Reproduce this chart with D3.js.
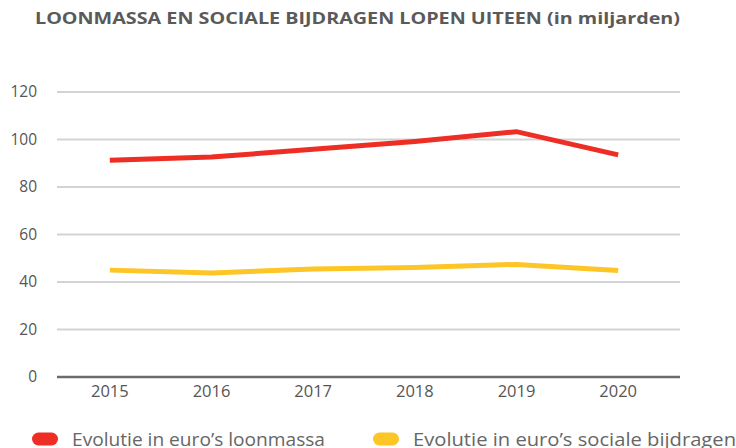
<!DOCTYPE html>
<html>
<head>
<meta charset="utf-8">
<script src="https://cdn.jsdelivr.net/npm/d3@7"></script>
<style>
  html, body { margin: 0; padding: 0; background: #fff; }
  svg { display: block; font-family: "Open Sans", "DejaVu Sans", sans-serif; }
</style>
</head>
<body>
<svg id="chart" width="736" height="448"></svg>
<script>
// Years and series (in billions of euros)
const years = ["2015", "2016", "2017", "2018", "2019", "2020"];
const loonmassa = [91.3, 92.6, 95.9, 99.2, 103.3, 93.5];
const socialeBijdragen = [45.0, 43.8, 45.5, 46.1, 47.4, 44.8];
const yTicks = [0, 20, 40, 60, 80, 100, 120];
const seriesNames = ["Evolutie in euro’s loonmassa", "Evolutie in euro’s sociale bijdragen"];
const seriesColors = ["#ee2d24", "#fdc526"];

const svg = d3.select("#chart");

const x = d3.scaleBand().domain(years).range([59, 669]);
const y = d3.scaleLinear().domain([0, 120]).range([377, 92]);

// Title
svg.append("text")
  .attr("x", 35).attr("y", 24)
  .attr("font-size", 15.5).attr("font-weight", 700)
  .attr("fill", "#5a5a5a")
  .attr("textLength", 645).attr("lengthAdjust", "spacingAndGlyphs")
  .text("LOONMASSA EN SOCIALE BIJDRAGEN LOPEN UITEEN (in miljarden)");

// Horizontal gridlines
svg.append("g").selectAll("line")
  .data(yTicks.filter(d => d > 0))
  .join("line")
  .attr("x1", 57).attr("x2", 680)
  .attr("y1", d => y(d)).attr("y2", d => y(d))
  .attr("stroke", "#d3d3d3").attr("stroke-width", 2);

// Baseline
svg.append("line")
  .attr("x1", 57).attr("x2", 680)
  .attr("y1", y(0)).attr("y2", y(0))
  .attr("stroke", "#6b6b6b").attr("stroke-width", 2.5);

// Y axis labels
const yAxis = d3.axisLeft(y).tickValues(yTicks).tickSize(0).tickPadding(0);
const gy = svg.append("g").attr("transform", "translate(37,0)").call(yAxis);
gy.select(".domain").remove();
gy.selectAll("text")
  .attr("font-size", 15.5).attr("fill", "#555")
  .attr("font-family", "\"Open Sans\", sans-serif");

// X axis labels
const xAxis = d3.axisBottom(x).tickSize(0).tickPadding(0);
const gx = svg.append("g").attr("transform", "translate(0,385)").call(xAxis);
gx.select(".domain").remove();
gx.selectAll("text")
  .attr("font-size", 16.5).attr("fill", "#555")
  .attr("font-family", "\"Open Sans\", sans-serif");

// Lines
const line = d3.line()
  .x((d, i) => x(years[i]) + x.bandwidth() / 2)
  .y(d => y(d));

[loonmassa, socialeBijdragen].forEach((values, k) => {
  svg.append("path")
    .datum(values)
    .attr("fill", "none")
    .attr("stroke", seriesColors[k])
    .attr("stroke-width", 5)
    .attr("stroke-linejoin", "miter")
    .attr("d", line);
});

// Legend
const legendX = [32, 373];
const legendTextLen = [253, 323];
const legend = svg.append("g");
seriesNames.forEach((name, k) => {
  legend.append("rect")
    .attr("x", legendX[k]).attr("y", 432.5)
    .attr("width", 26).attr("height", 13).attr("rx", 6.5)
    .attr("fill", seriesColors[k]);
  legend.append("text")
    .attr("x", legendX[k] + 40).attr("y", 446)
    .attr("font-size", 18.5).attr("fill", "#666")
    .attr("textLength", legendTextLen[k]).attr("lengthAdjust", "spacingAndGlyphs")
    .text(name);
});
</script>
</body>
</html>
